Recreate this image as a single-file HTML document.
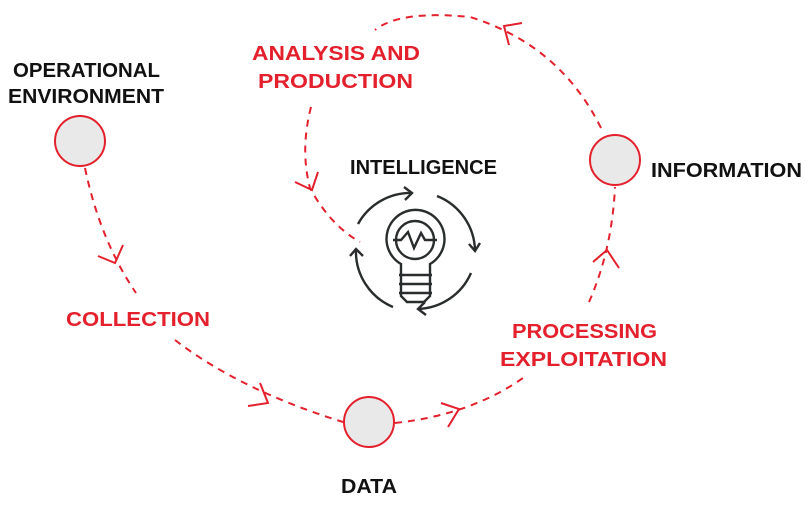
<!DOCTYPE html>
<html><head><meta charset="utf-8"><style>html,body{margin:0;padding:0;background:#fff}svg{display:block}</style></head>
<body>
<svg width="810" height="529" viewBox="0 0 810 529" xmlns="http://www.w3.org/2000/svg">
<g font-family="Liberation Sans, sans-serif" font-size="20" font-weight="bold">
<text x="13" y="77" textLength="147" lengthAdjust="spacingAndGlyphs" fill="#111">OPERATIONAL</text>
<text x="8" y="103" textLength="156" lengthAdjust="spacingAndGlyphs" fill="#111">ENVIRONMENT</text>
<text x="252" y="60" textLength="168" lengthAdjust="spacingAndGlyphs" fill="#e3202c">ANALYSIS AND</text>
<text x="258" y="88" textLength="155" lengthAdjust="spacingAndGlyphs" fill="#e3202c">PRODUCTION</text>
<text x="350" y="174" textLength="147" lengthAdjust="spacingAndGlyphs" fill="#111">INTELLIGENCE</text>
<text x="651" y="177" textLength="151" lengthAdjust="spacingAndGlyphs" fill="#111">INFORMATION</text>
<text x="66" y="326" textLength="144" lengthAdjust="spacingAndGlyphs" fill="#e3202c">COLLECTION</text>
<text x="512" y="338" textLength="145" lengthAdjust="spacingAndGlyphs" fill="#e3202c">PROCESSING</text>
<text x="500" y="366" textLength="167" lengthAdjust="spacingAndGlyphs" fill="#e3202c">EXPLOITATION</text>
<text x="341" y="493" textLength="56" lengthAdjust="spacingAndGlyphs" fill="#111">DATA</text>
</g>
<g fill="none" stroke="#e3202c" stroke-width="2" stroke-dasharray="7,6">
<path d="M85 168 Q100 240 136 293"/>
<path d="M175 340 Q240 390 343 422"/>
<path d="M395 423 Q470 415 523 378"/>
<path d="M589 302 Q612 250 615 187"/>
<path d="M601 128 Q560 45 470 17 Q400 10 375 30"/>
<path d="M311 107 Q300 150 310 188 Q330 225 360 242"/>
</g>
<g fill="none" stroke="#e3202c" stroke-width="2">
<path d="M98 256 L115 263 L123 245"/>
<path d="M248 406 L268 403 L260 383"/>
<path d="M441 403 L459 409 L448 427"/>
<path d="M593 262 L607 250 L619 268"/>
<path d="M522 23 L504 26 L509 45"/>
<path d="M295 182 L312 190 L318 172"/>
</g>
<g fill="#e8e9e8" stroke="#e3202c" stroke-width="2">
<circle cx="80" cy="141" r="25"/>
<circle cx="369" cy="422" r="25"/>
<circle cx="615" cy="160" r="25"/>
</g>
<g fill="none" stroke="#2a2d2d" stroke-width="2.4">
<path d="M358 224 A60 60 0 0 1 412 193"/>
<path d="M404 187 L412 193 L405 200"/>
<path d="M437 196 A60 60 0 0 1 475 251"/>
<path d="M469 244 L475 251 L480 243"/>
<path d="M471 273 A60 60 0 0 1 418 309"/>
<path d="M426 315 L418 309 L425 302"/>
<path d="M393 307 A60 60 0 0 1 356 249"/>
<path d="M350 256 L356 249 L363 256"/>
<path d="M401 264 A29 29 0 1 1 430 264 L430 296 L424 302 L407 302 L401 296 Z"/>
<circle cx="415" cy="240" r="19"/>
<path d="M393 240 L401 240 L408 232 L414 248 L421 233 L425 240 L437 240"/>
<path d="M399 275 H432 M399 284 H432 M399 293 H432"/>
</g>
</svg>
</body></html>
